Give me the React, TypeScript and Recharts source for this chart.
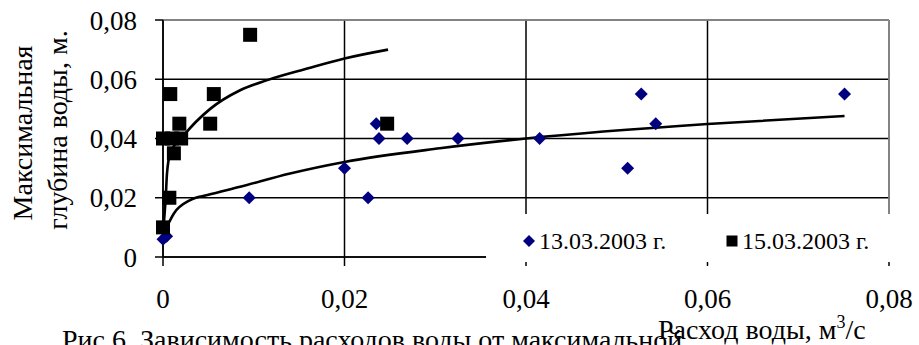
import React from 'react';
import {
  ComposedChart,
  Scatter,
  Line,
  XAxis,
  YAxis,
  CartesianGrid,
  ReferenceLine,
  Legend,
} from 'recharts';

const FONT = '"Liberation Serif", "Times New Roman", serif';

// 13.03.2003 - blue diamonds
const march13X = [0, 0.0004, 0.0095, 0.02, 0.0226, 0.0235, 0.0238, 0.0269, 0.0325, 0.0415, 0.0512, 0.0527, 0.0543, 0.0751];
const march13Y = [0.006, 0.007, 0.02, 0.03, 0.02, 0.045, 0.04, 0.04, 0.04, 0.04, 0.03, 0.055, 0.045, 0.055];

// 15.03.2003 - black squares
const march15X = [0, 0.0007, 0, 0.001, 0.002, 0.0012, 0.0008, 0.0018, 0.0052, 0.0056, 0.0096, 0.0247];
const march15Y = [0.01, 0.02, 0.04, 0.04, 0.04, 0.035, 0.055, 0.045, 0.045, 0.055, 0.075, 0.045];

// trend lines, points
const trend13X = [0.0001, 0.0012, 0.003, 0.0049, 0.0085, 0.014, 0.02, 0.0305, 0.04, 0.06, 0.0751];
const trend13Y = [0.008, 0.0147, 0.0192, 0.0209, 0.0237, 0.0282, 0.0321, 0.0367, 0.04, 0.0449, 0.0476];
const trend15X = [0.00005, 0.0003, 0.00044, 0.0008, 0.00227, 0.0052, 0.0085, 0.0115, 0.0159, 0.02, 0.0248];
const trend15Y = [0.01, 0.02, 0.0282, 0.035, 0.041, 0.05, 0.0563, 0.0597, 0.0636, 0.067, 0.07];

const xTicks = [0, 0.02, 0.04, 0.06, 0.08];
const yTicks = [0, 0.02, 0.04, 0.06, 0.08];
const seriesNames = ['13.03.2003 г.', '15.03.2003 г.'];

const toPoints = (xs: number[], ys: number[]) => xs.map((x, i) => ({ x, y: ys[i] }));

const fmt = (v: number) => (v === 0 ? '0' : v.toFixed(2).replace('.', ','));

const Diamond = (props: any) => {
  const { cx, cy } = props;
  const r = 6.5;
  return (
    <polygon
      points={`${cx},${cy - r} ${cx + r},${cy} ${cx},${cy + r} ${cx - r},${cy}`}
      fill="#000080"
    />
  );
};

const Square = (props: any) => {
  const { cx, cy } = props;
  return <rect x={cx - 7} y={cy - 7} width={14} height={14} fill="#000" />;
};

const renderLegend = () => (
  <div style={{ position: 'relative', width: '100%', height: '100%', fontFamily: FONT, fontSize: 24, color: '#000' }}>
    {seriesNames.map((name, i) => (
      <div
        key={name}
        style={{
          position: 'absolute',
          left: i === 0 ? 37 : 240,
          top: 12,
          height: 30,
          display: 'flex',
          alignItems: 'center',
          whiteSpace: 'nowrap',
        }}
      >
        <svg width={12} height={12} style={{ marginRight: 4 }}>
          {i === 0 ? (
            <polygon points="6,0 12,6 6,12 0,6" fill="#000080" />
          ) : (
            <rect x={0.5} y={0.5} width={11} height={11} fill="#000" />
          )}
        </svg>
        <span>{name}</span>
      </div>
    ))}
  </div>
);

const renderYLabel = () => (
  <g fontFamily={FONT} fontSize={28} fill="#000">
    <text transform="translate(32,133) rotate(-90)" textAnchor="middle">Максимальная</text>
    <text transform="translate(67,130) rotate(-90)" textAnchor="middle">глубина воды, м.</text>
  </g>
);

const renderXLabel = () => (
  <g fontFamily={FONT} fontSize={28} fill="#000">
    <text x={62} y={349}>Рис 6. Зависимость расходов воды от максимальной</text>
    <text x={658} y={339}>
      Расход воды, м<tspan dy={-11} fontSize={18}>3</tspan>
      <tspan dy={11}>/с</tspan>
    </text>
  </g>
);

export default function App() {
  const pts13 = toPoints(march13X, march13Y);
  const pts15 = toPoints(march15X, march15Y);
  const line13 = toPoints(trend13X, trend13Y);
  const line15 = toPoints(trend15X, trend15Y);

  return (
    <div style={{ position: 'absolute', left: 0, top: 0, width: 919, height: 345, background: '#fff', overflow: 'hidden' }}>
      <ComposedChart width={919} height={345} margin={{ top: 20, right: 30, bottom: 0, left: 0 }}>
        <CartesianGrid stroke="#000" strokeWidth={1.5} />
        <ReferenceLine y={0.08} stroke="#9a9a9a" strokeWidth={1.5} />
        <ReferenceLine x={0.08} stroke="#9a9a9a" strokeWidth={1.5} />
        <XAxis
          type="number"
          dataKey="x"
          domain={[0, 0.08]}
          ticks={xTicks}
          tickFormatter={fmt}
          height={88}
          tickSize={9}
          tickMargin={23}
          interval={0}
          axisLine={{ stroke: '#000', strokeWidth: 1.5 }}
          tickLine={{ stroke: '#000', strokeWidth: 1.5 }}
          tick={{ fontSize: 27, fill: '#000', fontFamily: FONT }}
          label={{ content: renderXLabel }}
        />
        <YAxis
          type="number"
          dataKey="y"
          domain={[0, 0.08]}
          ticks={yTicks}
          tickFormatter={fmt}
          width={163}
          tickSize={8}
          tickMargin={18}
          interval={0}
          axisLine={{ stroke: '#000', strokeWidth: 1.5 }}
          tickLine={{ stroke: '#000', strokeWidth: 1.5 }}
          tick={{ fontSize: 27, fill: '#000', fontFamily: FONT }}
          label={{ content: renderYLabel }}
        />
        <Scatter name={seriesNames[0]} data={pts13} dataKey="y" shape={Diamond} isAnimationActive={false} />
        <Scatter name={seriesNames[1]} data={pts15} dataKey="y" shape={Square} isAnimationActive={false} />
        <Line data={line13} dataKey="y" type="monotone" stroke="#000" strokeWidth={2.6} dot={false} activeDot={false} legendType="none" isAnimationActive={false} />
        <Line data={line15} dataKey="y" type="monotone" stroke="#000" strokeWidth={2.6} dot={false} activeDot={false} legendType="none" isAnimationActive={false} />
        <Legend
          layout="horizontal"
          align="center"
          verticalAlign="middle"
          content={renderLegend}
          wrapperStyle={{ position: 'absolute', left: 486, top: 214, width: 409, height: 48, background: '#fff' }}
        />
      </ComposedChart>
    </div>
  );
}
